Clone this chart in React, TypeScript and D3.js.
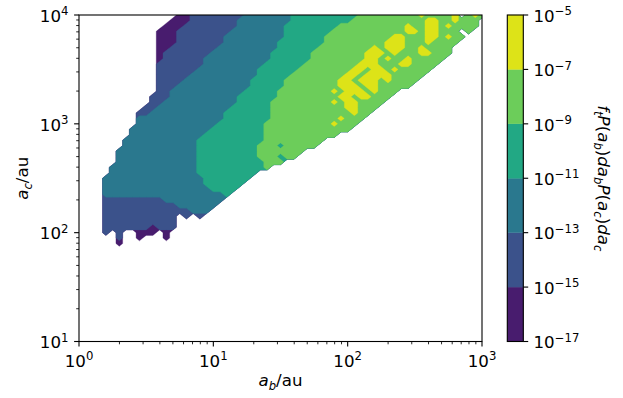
import React from 'react';
import * as d3 from 'd3';

// Contour levels (log10 of f_t P(a_b) da_b P(a_c) da_c) and their fill colours
const levelExponents = [-17, -15, -13, -11, -9, -7, -5];
const bandColors = ['#481c6e', '#3b528b', '#2a788e', '#22a884', '#6ccd5a', '#dde318'];

// Axis decades
const xDecades = [0, 1, 2, 3];
const yDecades = [1, 2, 3, 4];

// Binned density on a 0.05 dex log grid. Rows run from log10(a_c) = 4 downward,
// columns from log10(a_b) = 0 rightward. Digit k means the value lies between
// 10^levelExponents[k-1] and 10^levelExponents[k]; '.' means no systems.
const gridStep = 0.05;
const gridLogAb0 = 0;
const gridLogAcTop = 4;
const gridCols = 61;
const densityBands = [
  '...............112222222233333334444444444555555555655556.565',
  '..............1112222222333333334444444445555555555566556555',
  '.............11122222222333333344444444555555555565566565555',
  '............111222222223333333344444445555555555566566555.5',
  '............1112222222333333333444444555555555566555665655',
  '............111222222233333333444444455555555566655565555',
  '............11222222233333333344444455555555656665565555',
  '............12222222333333333444444555555556665655566555',
  '............1222222333333333344444455555555665655655555',
  '............222222233333333344444455555555666555665555',
  '............22222233333333344444455555555665665655555',
  '............2222233333333334444455555555665666655555',
  '............222233333333334444455555555665666565555',
  '............22233333333333444445555555566656655555',
  '............223333333333344444555555556566656555',
  '...........222333333333344444455555555566566555',
  '...........22333333333334444455555555565665555',
  '..........22333333333334444445555555555566555',
  '.........22333333333334444444555555555555655',
  '.........3333333333333444444455555555556555',
  '.........333333333333444444455555555556555',
  '........333333333333444444445555555555555',
  '........3333333333344444444455555555555',
  '.......333333333334444444444555555555',
  '.......33333333333444444444555455555',
  '......3333333333334444444445555555',
  '......333333333333444444444555455',
  '......3333333333334444444444555',
  '.....333333333333344444444445',
  '.....3333333333333444444444',
  '....3333333333333334444444',
  '....333333333333333444444',
  '....33333333333333334444',
  '....3333333333333333334',
  '....222222222333333333',
  '....22222222222333333',
  '....2222222222222333',
  '....22222222222.2.2',
  '....22222222222',
  '....22222221222',
  '....2.2..111.1',
  '......2..1...1',
  '......1',
];

const FONT = 'DejaVu Sans, sans-serif';
const FS = 16.67;
const SUP = 11.7;

type Seg = { t: string; it?: boolean; sub?: boolean };

function mathSpans(segs: Seg[], size: number) {
  let shift = 0;
  return segs.map((s, i) => {
    const target = s.sub ? size * 0.22 : 0;
    const dy = target - shift;
    shift = target;
    return (
      <tspan
        key={i}
        dy={dy}
        fontStyle={s.it ? 'italic' : 'normal'}
        fontSize={s.sub ? size * 0.7 : size}
      >
        {s.t}
      </tspan>
    );
  });
}

function powLabel(exp: number) {
  return exp < 0 ? '\u2212' + String(-exp) : String(exp);
}

export default function App() {
  const W = 623;
  const H = 398;
  const plot = { left: 79, right: 482, top: 15, bottom: 341.5 };
  const cbar = { left: 507.3, right: 523.3 };

  const x = d3.scaleLog().domain([1, 1e3]).range([plot.left, plot.right]);
  const y = d3.scaleLog().domain([10, 1e4]).range([plot.bottom, plot.top]);
  const c = d3
    .scaleLinear()
    .domain([levelExponents[0], levelExponents[levelExponents.length - 1]])
    .range([plot.bottom, plot.top]);

  // Filled contour layers, each band drawn over the lower ones
  const rows = densityBands.map((r) => r.padEnd(gridCols, '.').slice(0, gridCols));
  const nRows = rows.length;
  const codes = rows.flatMap((r) => Array.from(r, (ch) => (ch === '.' ? 0 : Number(ch))));
  const projection = d3.geoTransform({
    point(this: any, px: number, py: number) {
      const la = gridLogAb0 + (px - 0.5) * gridStep;
      const lc = gridLogAcTop - (py - 0.5) * gridStep;
      this.stream.point(x(Math.pow(10, la)), y(Math.pow(10, lc)));
    },
  });
  const path = d3.geoPath(projection);
  const contourGen = d3.contours().size([gridCols, nRows]).smooth(false).thresholds([0.5]);
  const layers = bandColors.map((color, i) => {
    const mask = codes.map((v) => (v >= i + 1 ? 1 : 0));
    return { color, d: path(contourGen(mask)[0] as any) || '' };
  });

  const minor = (decades: number[]) => {
    const out: number[] = [];
    decades.slice(0, -1).forEach((d) => {
      for (let m = 2; m <= 9; m++) out.push(m * Math.pow(10, d));
    });
    return out;
  };
  const xMinor = minor(xDecades);
  const yMinor = minor(yDecades);

  const MAJ = 4.9;
  const MIN = 2.8;
  const tickColor = '#000';

  return (
    <svg
      width={W}
      height={H}
      viewBox={`0 0 ${W} ${H}`}
      style={{ position: 'absolute', left: 0, top: 0, background: '#fff' }}
      fontFamily={FONT}
    >
      <defs>
        <clipPath id="plot-clip">
          <rect x={plot.left} y={plot.top} width={plot.right - plot.left} height={plot.bottom - plot.top} />
        </clipPath>
      </defs>
      <rect x={0} y={0} width={W} height={H} fill="#fff" />

      <g clipPath="url(#plot-clip)">
        {layers.map((l, i) => (
          <path key={i} d={l.d} fill={l.color} fillRule="evenodd" stroke={l.color} strokeWidth={0.3} />
        ))}
      </g>

      {/* frame */}
      <rect
        x={plot.left}
        y={plot.top}
        width={plot.right - plot.left}
        height={plot.bottom - plot.top}
        fill="none"
        stroke="#000"
        strokeWidth={1.1}
      />

      {/* x axis ticks */}
      {xDecades.map((d) => (
        <g key={'xt' + d}>
          <line x1={x(Math.pow(10, d))} x2={x(Math.pow(10, d))} y1={plot.bottom} y2={plot.bottom + MAJ} stroke={tickColor} strokeWidth={1.1} />
          <text x={x(Math.pow(10, d))} y={367} textAnchor="middle" fontSize={FS} fill="#000">
            10
            <tspan dy={-6.7} fontSize={SUP}>
              {powLabel(d)}
            </tspan>
          </text>
        </g>
      ))}
      {xMinor.map((v, i) => (
        <line key={'xm' + i} x1={x(v)} x2={x(v)} y1={plot.bottom} y2={plot.bottom + MIN} stroke={tickColor} strokeWidth={0.85} />
      ))}

      {/* y axis ticks */}
      {yDecades.map((d) => (
        <g key={'yt' + d}>
          <line x1={plot.left - MAJ} x2={plot.left} y1={y(Math.pow(10, d))} y2={y(Math.pow(10, d))} stroke={tickColor} strokeWidth={1.1} />
          <text x={plot.left - 10.5} y={y(Math.pow(10, d)) + 6.8} textAnchor="end" fontSize={FS} fill="#000">
            10
            <tspan dy={-6.7} fontSize={SUP}>
              {powLabel(d)}
            </tspan>
          </text>
        </g>
      ))}
      {yMinor.map((v, i) => (
        <line key={'ym' + i} x1={plot.left - MIN} x2={plot.left} y1={y(v)} y2={y(v)} stroke={tickColor} strokeWidth={0.85} />
      ))}

      {/* axis labels */}
      <text x={(plot.left + plot.right) / 2} y={386} textAnchor="middle" fontSize={FS} fill="#000">
        {mathSpans([{ t: 'a', it: true }, { t: 'b', it: true, sub: true }, { t: '/au' }], FS)}
      </text>
      <text transform={`translate(28, ${(plot.top + plot.bottom) / 2}) rotate(-90)`} textAnchor="middle" fontSize={FS} fill="#000">
        {mathSpans([{ t: 'a', it: true }, { t: 'c', it: true, sub: true }, { t: '/au' }], FS)}
      </text>

      {/* colour bar */}
      {bandColors.map((col, i) => (
        <rect
          key={'cb' + i}
          x={cbar.left}
          y={c(levelExponents[i + 1])}
          width={cbar.right - cbar.left}
          height={c(levelExponents[i]) - c(levelExponents[i + 1])}
          fill={col}
          stroke={col}
          strokeWidth={0.3}
        />
      ))}
      <rect
        x={cbar.left}
        y={plot.top}
        width={cbar.right - cbar.left}
        height={plot.bottom - plot.top}
        fill="none"
        stroke="#000"
        strokeWidth={1.1}
      />
      {levelExponents.map((e) => (
        <g key={'cl' + e}>
          <line x1={cbar.right} x2={cbar.right + MAJ} y1={c(e)} y2={c(e)} stroke={tickColor} strokeWidth={1.1} />
          <text x={cbar.right + 10.2} y={c(e) + 6.8} fontSize={FS} fill="#000">
            10
            <tspan dy={-6.7} fontSize={SUP}>
              {powLabel(e)}
            </tspan>
          </text>
        </g>
      ))}
      <text transform={`translate(598, ${(plot.top + plot.bottom) / 2}) rotate(90)`} textAnchor="middle" fontSize={FS} fill="#000">
        {mathSpans(
          [
            { t: 'f', it: true },
            { t: 't', it: true, sub: true },
            { t: 'P', it: true },
            { t: '(' },
            { t: 'a', it: true },
            { t: 'b', it: true, sub: true },
            { t: ')' },
            { t: 'da', it: true },
            { t: 'b', it: true, sub: true },
            { t: 'P', it: true },
            { t: '(' },
            { t: 'a', it: true },
            { t: 'c', it: true, sub: true },
            { t: ')' },
            { t: 'da', it: true },
            { t: 'c', it: true, sub: true },
          ],
          FS
        )}
      </text>
    </svg>
  );
}
